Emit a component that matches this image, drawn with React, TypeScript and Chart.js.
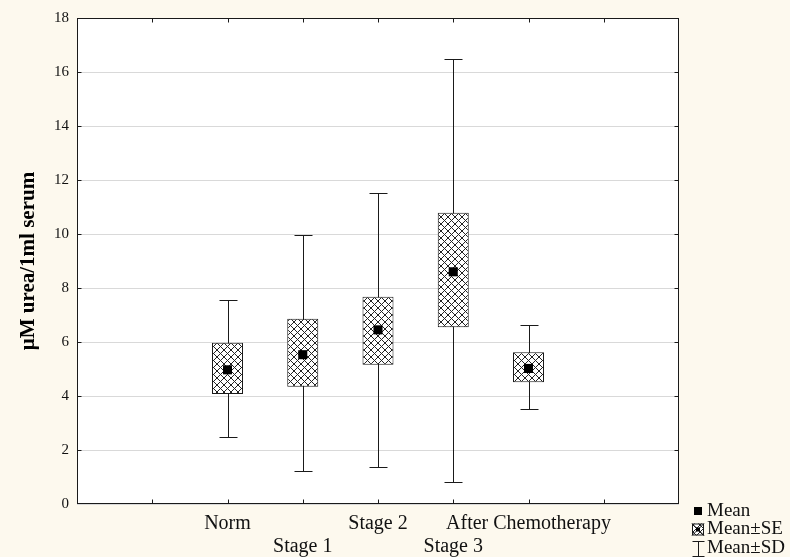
import { useEffect, useRef } from 'react';
import { Chart, registerables } from 'chart.js';

Chart.register(...registerables);

// ---- data ----
const categories = ['Norm', 'Stage 1', 'Stage 2', 'Stage 3', 'After Chemotherapy'];
const categoryPositions = [2, 3, 4, 5, 6];
const labelRows = [0, 1, 0, 1, 0];
const means = [4.97, 5.53, 6.45, 8.6, 5.02];
const seLow = [4.07, 4.34, 5.16, 6.55, 4.51];
const seHigh = [5.97, 6.86, 7.68, 10.79, 5.62];
const sdLow = [2.48, 1.23, 1.38, 0.82, 3.51];
const sdHigh = [7.56, 9.97, 11.53, 16.48, 6.63];
const yMin = 0;
const yMax = 18;
const yStep = 2;
const xMin = 0;
const xMax = 8;
const legendLabels = ['Mean', 'Mean\u00B1SE', 'Mean\u00B1SD'];
const yTitle = '\u03BCM urea/1ml serum';

const FONT = "'Liberation Serif', 'Times New Roman', serif";
const CREAM = '#fdf9ee';
const INK = '#1a1a1a';

function makePattern(): CanvasPattern | string {
  const s = 7;
  const c = document.createElement('canvas');
  c.width = s;
  c.height = s;
  const g = c.getContext('2d');
  if (!g) return '#ccc';
  g.fillStyle = '#ffffff';
  g.fillRect(0, 0, s, s);
  g.strokeStyle = '#222';
  g.lineWidth = 1;
  g.beginPath();
  g.moveTo(-1, -1);
  g.lineTo(s + 1, s + 1);
  g.moveTo(s + 1, -1);
  g.lineTo(-1, s + 1);
  g.stroke();
  const p = g.createPattern(c, 'repeat');
  return p || '#ccc';
}

export default function App() {
  const ref = useRef<HTMLCanvasElement | null>(null);

  useEffect(() => {
    const canvas = ref.current;
    if (!canvas) return;
    const pattern = makePattern();

    const plugin = {
      id: 'statFrame',
      beforeDraw(chart: any) {
        const { ctx, chartArea: a, width, height } = chart;
        ctx.save();
        ctx.fillStyle = CREAM;
        ctx.fillRect(0, 0, width, height);
        ctx.fillStyle = '#ffffff';
        ctx.fillRect(a.left, a.top, a.right - a.left, a.bottom - a.top);
        ctx.restore();
      },
      beforeDatasetsDraw(chart: any) {
        const { ctx } = chart;
        const xs = chart.scales.x;
        const ys = chart.scales.y;
        ctx.save();
        ctx.strokeStyle = INK;
        ctx.lineWidth = 1;
        for (let i = 0; i < categoryPositions.length; i++) {
          const x = Math.round(xs.getPixelForValue(categoryPositions[i])) + 0.5;
          const yHi = Math.round(ys.getPixelForValue(sdHigh[i])) + 0.5;
          const yLo = Math.round(ys.getPixelForValue(sdLow[i])) + 0.5;
          ctx.beginPath();
          ctx.moveTo(x, yHi);
          ctx.lineTo(x, yLo);
          ctx.moveTo(x - 9, yHi);
          ctx.lineTo(x + 9, yHi);
          ctx.moveTo(x - 9, yLo);
          ctx.lineTo(x + 9, yLo);
          ctx.stroke();
        }
        ctx.restore();
      },
      afterDatasetsDraw(chart: any) {
        const { ctx, chartArea: a } = chart;
        const xs = chart.scales.x;
        const ys = chart.scales.y;
        ctx.save();
        ctx.strokeStyle = INK;
        ctx.lineWidth = 1;
        const L = Math.round(a.left) + 0.5;
        const R = Math.round(a.right) - 0.5;
        const T = Math.round(a.top) + 0.5;
        const B = Math.round(a.bottom) - 0.5;
        ctx.strokeRect(L, T, R - L, B - T);
        // inward ticks
        ctx.beginPath();
        for (let v = xMin + 1; v < xMax; v++) {
          const x = Math.round(xs.getPixelForValue(v)) + 0.5;
          ctx.moveTo(x, B);
          ctx.lineTo(x, B - 4);
          ctx.moveTo(x, T);
          ctx.lineTo(x, T + 4);
        }
        for (let v = yMin + yStep; v < yMax; v += yStep) {
          const y = Math.round(ys.getPixelForValue(v)) + 0.5;
          ctx.moveTo(L, y);
          ctx.lineTo(L + 4, y);
          ctx.moveTo(R, y);
          ctx.lineTo(R - 4, y);
        }
        ctx.stroke();

        // legend
        const sx = a.right + 19;
        const tx = a.right + 28;
        const rows = [a.bottom + 6, a.bottom + 24.5, a.bottom + 43];
        ctx.font = `19px ${FONT}`;
        ctx.fillStyle = '#111';
        ctx.textAlign = 'left';
        ctx.textBaseline = 'middle';
        // Mean symbol
        ctx.fillStyle = '#000';
        ctx.fillRect(sx - 4, rows[0] - 3, 8, 8);
        // SE symbol
        ctx.fillStyle = pattern as any;
        ctx.fillRect(sx - 6, rows[1] - 5, 12, 12);
        ctx.strokeStyle = INK;
        ctx.strokeRect(sx - 6 + 0.5, rows[1] - 5 + 0.5, 11, 11);
        ctx.beginPath();
        ctx.moveTo(sx - 6, rows[1] - 5);
        ctx.lineTo(sx + 6, rows[1] + 7);
        ctx.moveTo(sx + 6, rows[1] - 5);
        ctx.lineTo(sx - 6, rows[1] + 7);
        ctx.stroke();
        ctx.fillStyle = '#000';
        ctx.fillRect(sx - 2, rows[1] - 1, 4, 4);
        // SD symbol
        const cx = Math.round(sx) + 0.5;
        ctx.beginPath();
        ctx.moveTo(cx - 6, Math.round(rows[2] - 6) + 0.5);
        ctx.lineTo(cx + 6, Math.round(rows[2] - 6) + 0.5);
        ctx.moveTo(cx, rows[2] - 6);
        ctx.lineTo(cx, rows[2] + 9);
        ctx.moveTo(cx - 6, Math.round(rows[2] + 9) + 0.5);
        ctx.lineTo(cx + 6, Math.round(rows[2] + 9) + 0.5);
        ctx.stroke();
        ctx.fillStyle = '#111';
        for (let i = 0; i < legendLabels.length; i++) {
          ctx.fillText(legendLabels[i], tx, rows[i] + 1);
        }
        ctx.restore();
      },
    };

    const chart = new Chart(canvas, {
      type: 'bar',
      data: {
        datasets: [
          {
            type: 'scatter',
            label: 'Mean',
            data: categoryPositions.map((x, i) => ({ x, y: means[i] })),
            pointStyle: 'rect',
            pointRadius: 6.4,
            pointBackgroundColor: '#000',
            pointBorderWidth: 0,
            showLine: false,
            order: 0,
          } as any,
          {
            type: 'bar',
            label: 'Mean\u00B1SE',
            data: categoryPositions.map((x, i) => ({ x, y: [seLow[i], seHigh[i]] })),
            backgroundColor: pattern as any,
            borderColor: INK,
            borderWidth: 1,
            borderSkipped: false,
            barThickness: 31,
            inflateAmount: 0,
            order: 1,
          } as any,
        ],
      },
      options: {
        responsive: false,
        animation: false,
        events: [],
        layout: { padding: { left: 0, right: 111, top: 18, bottom: 0 } },
        plugins: {
          legend: { display: false },
          tooltip: { enabled: false },
        },
        scales: {
          x: {
            type: 'linear',
            min: xMin,
            max: xMax,
            offset: false,
            afterFit: (s: any) => {
              s.height = 53;
            },
            grid: { display: true, drawOnChartArea: false, drawTicks: false, offset: false },
            border: { display: false },
            ticks: {
              stepSize: 1,
              autoSkip: false,
              maxRotation: 0,
              minRotation: 0,
              padding: 8,
              color: '#111',
              font: { family: FONT, size: 20, lineHeight: 1.15 },
              callback: (value: any) => {
                const idx = categoryPositions.indexOf(Number(value));
                if (idx < 0) return '';
                return labelRows[idx] === 1 ? ['', categories[idx]] : categories[idx];
              },
            },
          },
          y: {
            type: 'linear',
            min: yMin,
            max: yMax,
            afterFit: (s: any) => {
              s.width = 77;
            },
            grid: { color: '#d9d9d9', drawTicks: false, lineWidth: 1 },
            border: { display: false },
            ticks: {
              stepSize: yStep,
              padding: 8,
              color: '#111',
              font: { family: FONT, size: 15 },
            },
            title: {
              display: true,
              text: yTitle,
              color: '#000',
              padding: { top: 16, bottom: 0 },
              font: { family: FONT, size: 21, weight: 'bold', lineHeight: 1.2 },
            },
          },
        },
      } as any,
      plugins: [plugin as any],
    });

    return () => {
      chart.destroy();
    };
  }, []);

  return (
    <div style={{ position: 'absolute', left: 0, top: 0, width: 790, height: 557, background: CREAM }}>
      <canvas ref={ref} width={790} height={557} style={{ display: 'block', width: 790, height: 557 }} />
    </div>
  );
}
